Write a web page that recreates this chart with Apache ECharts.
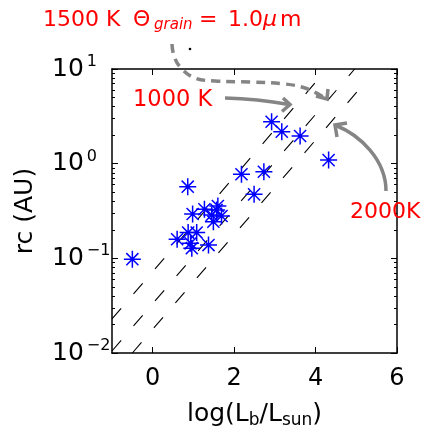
<!DOCTYPE html>
<html>
<head>
<meta charset="utf-8">
<script src="https://cdn.jsdelivr.net/npm/echarts@6/dist/echarts.min.js"></script>
<style>
html, body { margin: 0; padding: 0; background: #fff; }
#chart { width: 423px; height: 438px; }
</style>
</head>
<body>
<div id="chart"></div>
<script>
// 观测点: log(Lb/Lsun) 与 rc (AU)
var logL = [-0.50, 0.86, 0.98, 1.27, 1.57, 1.60, 1.45, 1.69, 1.49, 0.60, 0.87, 1.08, 0.93, 0.96, 1.37, 2.18, 2.49, 2.73, 2.92, 3.17, 3.62, 4.32];
var rcAU = [0.098, 0.571, 0.294, 0.330, 0.324, 0.357, 0.287, 0.280, 0.244, 0.159, 0.187, 0.187, 0.144, 0.128, 0.138, 0.773, 0.474, 0.822, 2.77, 2.18, 1.96, 1.09];

// 三条虚线 (1000 K / 1500 K / 2000 K) 端点
var line1000x = [-1, 4.28];
var line1000y = [0.0229, 10];
var line1500x = [-1, 4.96];
var line1500y = [0.0105, 10];
var line2000x = [-0.5, 5.22];
var line2000y = [0.01, 7.24];

// 坐标轴刻度
var xTicks = [0, 2, 4, 6];
var yMajor = [0.01, 0.1, 1, 10];
var yMinor = [0.02, 0.03, 0.04, 0.05, 0.06, 0.07, 0.08, 0.09,
              0.2, 0.3, 0.4, 0.5, 0.6, 0.7, 0.8, 0.9,
              2, 3, 4, 5, 6, 7, 8, 9];

function pairs(xs, ys) {
	var out = [];
	for (var i = 0; i < xs.length; i++) {
		out.push([xs[i], ys[i]]);
	}
	return out;
}

var FONT = 'DejaVu Sans';
var GRAY = '#858585';
var RED = '#ff0000';

function yLabel(v) {
	var e = Math.round(Math.log10(v));
	var s = e < 0 ? '\u2212' + (-e) : '' + e;
	return '{b|10}{e|' + s + '}';
}

function yAxisBase(pos, ticks, len, showLine) {
	return {
		type : 'log',
		logBase : 10,
		min : 0.01,
		max : 10,
		position : pos,
		axisLine : { show : showLine, onZero : false, lineStyle : { color : '#000', width : 1.5 } },
		axisTick : { show : true, inside : true, length : len, customValues : ticks, lineStyle : { color : '#000', width : 1 } },
		axisLabel : { show : false },
		splitLine : { show : false },
		minorTick : { show : false }
	};
}

var yLeft = yAxisBase('left', yMajor, 6, true);
yLeft.axisLabel = {
	show : true,
	customValues : yMajor,
	margin : 60,
	align : 'left',
	formatter : yLabel,
	rich : {
		b : { fontFamily : FONT, fontSize : 25, lineHeight : 30, color : '#000', padding : [0, 3, 0, 0] },
		e : { fontFamily : FONT, fontSize : 16, lineHeight : 12, verticalAlign : 'top', color : '#000' }
	}
};
yLeft.name = 'rc (AU)';
yLeft.nameLocation = 'middle';
yLeft.nameRotate = 90;
yLeft.nameGap = 74;
yLeft.nameTextStyle = { fontFamily : FONT, fontSize : 25, color : '#000' };

function arrowHead(tip, a, b) {
	return {
		type : 'polyline',
		shape : { points : [a, tip, b] },
		style : { stroke : GRAY, lineWidth : 3.5, fill : null },
		z : 100
	};
}

function redText(str, x, y, size, italic) {
	return {
		type : 'text',
		style : {
			text : str, x : x, y : y,
			fill : RED,
			font : (italic ? 'italic ' : '') + size + 'px "' + FONT + '"',
			textAlign : 'left', textVerticalAlign : 'middle'
		},
		z : 100
	};
}

var chart = echarts.init(document.getElementById('chart'));
var option = {
	animation : false,
	backgroundColor : '#fff',
	grid : { left : 112, right : 26, top : 69, bottom : 85 },
	xAxis : [
		{
			type : 'value',
			min : -1,
			max : 6,
			position : 'bottom',
			axisLine : { show : true, onZero : false, lineStyle : { color : '#000', width : 1.5 } },
			axisTick : { show : true, inside : true, length : 6, customValues : xTicks, lineStyle : { color : '#000' } },
			axisLabel : { show : true, customValues : xTicks, margin : 14, fontFamily : FONT, fontSize : 24, color : '#000' },
			splitLine : { show : false },
			name : '{a|log(L}{s|b}{a|/L}{s|sun}{a|)}',
			nameLocation : 'middle',
			nameGap : 46,
			nameTextStyle : {
				rich : {
					a : { fontFamily : FONT, fontSize : 25, lineHeight : 30, color : '#000' },
					s : { fontFamily : FONT, fontSize : 17, lineHeight : 16, verticalAlign : 'bottom', color : '#000' }
				}
			}
		}, {
			type : 'value',
			min : -1,
			max : 6,
			position : 'top',
			axisLine : { show : true, onZero : false, lineStyle : { color : '#000', width : 1.5 } },
			axisTick : { show : true, inside : true, length : 6, customValues : xTicks, lineStyle : { color : '#000' } },
			axisLabel : { show : false },
			splitLine : { show : false }
		}
	],
	yAxis : [
		yLeft,
		yAxisBase('left', yMinor, 3, false),
		yAxisBase('right', yMajor, 6, true),
		yAxisBase('right', yMinor, 3, false)
	],
	series : [
		{
			type : 'line', data : pairs(line1000x, line1000y), symbol : 'none', silent : true,
			lineStyle : { color : '#000', width : 1.1, type : [14, 19] }
		}, {
			type : 'line', data : pairs(line1500x, line1500y), symbol : 'none', silent : true,
			lineStyle : { color : '#000', width : 1.1, type : [14, 19] }
		}, {
			type : 'line', data : pairs(line2000x, line2000y), symbol : 'none', silent : true,
			lineStyle : { color : '#000', width : 1.1, type : [14, 19] }
		}, {
			type : 'scatter',
			data : pairs(logL, rcAU),
			symbol : 'path://M0 8 L16 8 M8 0 L8 16 M2.3 2.3 L13.7 13.7 M13.7 2.3 L2.3 13.7',
			symbolSize : 17,
			z : 10,
			itemStyle : { color : 'rgba(0,0,0,0)', borderColor : '#0000ff', borderWidth : 1.5, opacity : 1 }
		}
	],
	graphic : [
		// 1000 K 箭头
		{
			type : 'bezierCurve',
			shape : { x1 : 225, y1 : 98, cpx1 : 250, cpy1 : 98.5, cpx2 : 270, cpy2 : 101, x2 : 289, y2 : 104.5 },
			style : { stroke : GRAY, lineWidth : 3.5, fill : null },
			z : 100
		},
		arrowHead([290, 104.5], [283, 98], [282, 111.5]),
		// 1500 K 虚线箭头
		{
			type : 'polyline',
			shape : {
				points : [[172, 44], [174, 56], [181, 68], [195, 78], [215, 81], [250, 82], [285, 84], [305, 88], [320, 95], [326, 99]],
				smooth : 0.4
			},
			style : { stroke : GRAY, lineWidth : 3.5, fill : null, lineDash : [9, 6] },
			z : 100
		},
		arrowHead([327, 99], [316, 96], [328, 89]),
		// 2000 K 箭头
		{
			type : 'bezierCurve',
			shape : { x1 : 386, y1 : 191, cpx1 : 386, cpy1 : 160, cpx2 : 360, cpy2 : 135, x2 : 336, y2 : 125.5 },
			style : { stroke : GRAY, lineWidth : 3.5, fill : null },
			z : 100
		},
		arrowHead([335, 125], [347, 123], [337, 137]),
		{ type : 'circle', shape : { cx : 190, cy : 49, r : 1.3 }, style : { fill : '#000' }, z : 100 },
		redText('1500 K', 43, 20.5, 22),
		redText('\u0398', 133, 20.5, 22),
		redText('grain', 154, 25.5, 15, true),
		redText('=', 199, 20.5, 22),
		redText('1.0', 228, 20.5, 22),
		redText('\u03bc', 263, 20.5, 22, true),
		redText('m', 280, 20.5, 22),
		redText('1000 K', 133, 100, 22.5),
		redText('2000K', 350, 212.5, 22)
	]
};
chart.setOption(option);
</script>
</body>
</html>
